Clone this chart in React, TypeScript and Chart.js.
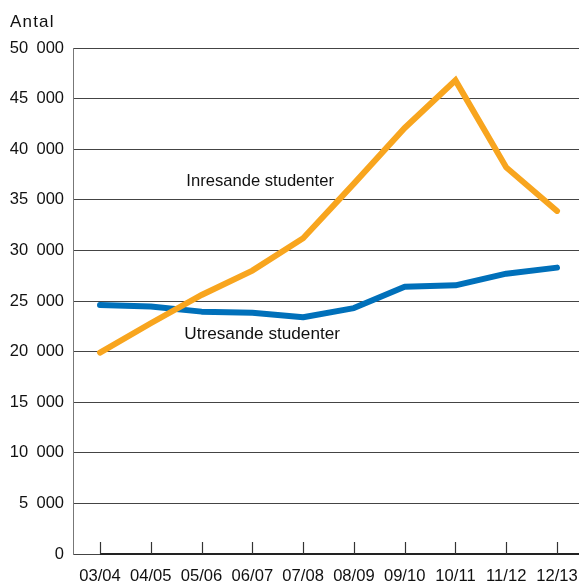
import React, { useEffect, useRef } from "react";
import { Chart, registerables } from "chart.js";

Chart.register(...registerables);

const categories = ["03/04", "04/05", "05/06", "06/07", "07/08", "08/09", "09/10", "10/11", "11/12", "12/13"];
const inresande = [19900, 22800, 25600, 28000, 31200, 36600, 42100, 46800, 38200, 33900];
const utresande = [24600, 24450, 23950, 23850, 23400, 24300, 26400, 26550, 27700, 28300];
const yTicks = [0, 5000, 10000, 15000, 20000, 25000, 30000, 35000, 40000, 45000, 50000];

const FONT = "'Liberation Sans', Arial, Helvetica, sans-serif";
const ORANGE = "#F8A51E";
const BLUE = "#0070BA";

const fmt = (v: number) => String(v).replace(/\B(?=(\d{3})+(?!\d))/g, "\u2002");

const overlay = {
  id: "overlay",
  afterDraw(chart: any) {
    const ctx = chart.ctx as CanvasRenderingContext2D;
    const x = chart.scales.x;
    const y = chart.scales.y;
    const area = chart.chartArea;
    ctx.save();
    const x0 = x.getPixelForValue(0);
    const yb = y.getPixelForValue(0);
    ctx.strokeStyle = "#222";
    ctx.lineWidth = 2;
    ctx.beginPath();
    ctx.moveTo(x0, yb);
    ctx.lineTo(area.right, yb);
    ctx.stroke();
    ctx.lineWidth = 1.2;
    ctx.strokeStyle = "#333";
    categories.forEach((_, i) => {
      const px = Math.round(x.getPixelForValue(i)) + 0.5;
      ctx.beginPath();
      ctx.moveTo(px, yb);
      ctx.lineTo(px, yb - 12);
      ctx.stroke();
    });
    ctx.fillStyle = "#111";
    ctx.textBaseline = "alphabetic";
    ctx.textAlign = "left";
    (ctx as any).letterSpacing = "1.2px";
    ctx.font = `17px ${FONT}`;
    ctx.fillText("Antal", 10, 27);
    (ctx as any).letterSpacing = "0px";
    ctx.font = `16.6px ${FONT}`;
    ctx.fillText("Inresande studenter", x.getPixelForValue(1.7), y.getPixelForValue(36400));
    ctx.font = `17.2px ${FONT}`;
    ctx.fillText("Utresande studenter", x.getPixelForValue(1.66), y.getPixelForValue(21250));
    ctx.restore();
  },
};

export default function App() {
  const ref = useRef<HTMLCanvasElement>(null);
  useEffect(() => {
    document.body.style.margin = "0";
    const chart = new Chart(ref.current as HTMLCanvasElement, {
      type: "line",
      data: {
        datasets: [
          {
            label: "Inresande studenter",
            data: inresande.map((v, i) => ({ x: i, y: v })),
            borderColor: ORANGE,
            borderWidth: 6,
            pointRadius: 0,
            tension: 0,
            borderCapStyle: "round",
            borderJoinStyle: "miter",
          },
          {
            label: "Utresande studenter",
            data: utresande.map((v, i) => ({ x: i, y: v })),
            borderColor: BLUE,
            borderWidth: 6,
            pointRadius: 0,
            tension: 0,
            borderCapStyle: "round",
            borderJoinStyle: "round",
          },
        ],
      },
      options: {
        animation: false,
        responsive: false,
        devicePixelRatio: 1,
        layout: { padding: { top: 48, left: 0, right: 0, bottom: 0 } },
        plugins: { legend: { display: false }, tooltip: { enabled: false } },
        scales: {
          x: {
            type: "linear",
            min: -0.532,
            max: 9.433,
            grid: { display: false, drawTicks: false },
            border: { display: false },
            afterBuildTicks: (s: any) => {
              s.ticks = categories.map((_, i) => ({ value: i }));
            },
            afterFit: (s: any) => {
              s.height = 28;
              s.paddingLeft = 0;
              s.paddingRight = 0;
            },
            ticks: {
              autoSkip: false,
              maxRotation: 0,
              padding: 12,
              color: "#111",
              font: { family: FONT, size: 16.6 },
              callback: (v: any) => categories[v as number] ?? "",
            },
          },
          y: {
            min: 0,
            max: 50000,
            afterBuildTicks: (s: any) => {
              s.ticks = yTicks.map((v) => ({ value: v }));
            },
            afterFit: (s: any) => {
              s.width = 73;
            },
            grid: { color: "#444", lineWidth: 1, drawTicks: false },
            border: { display: true, color: "#777", width: 1 },
            ticks: {
              padding: 9,
              color: "#111",
              font: { family: FONT, size: 16.5 },
              callback: (v: any) => fmt(v as number),
            },
          },
        },
      },
      plugins: [overlay],
    });
    return () => chart.destroy();
  }, []);
  return (
    <div style={{ width: 579, height: 582 }}>
      <canvas ref={ref} width={579} height={582} style={{ display: "block" }} />
    </div>
  );
}
